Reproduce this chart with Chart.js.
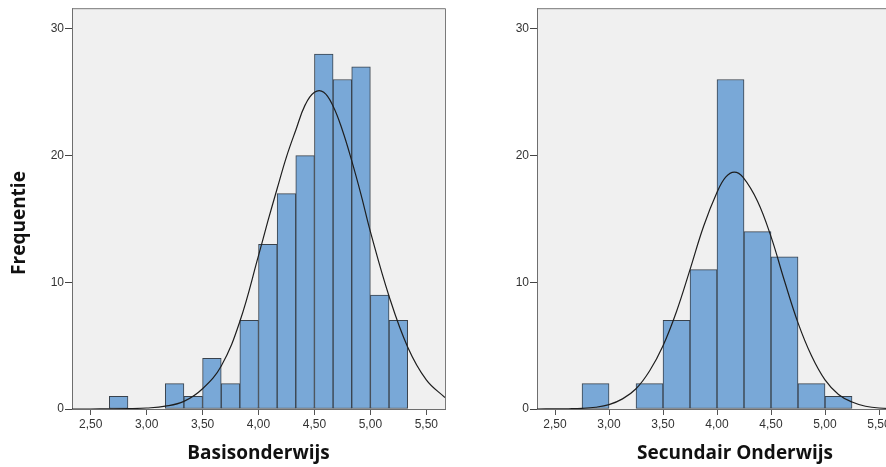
<!DOCTYPE html>
<html>
<head>
<meta charset="utf-8">
<script src="https://cdn.jsdelivr.net/npm/chart.js@4"></script>
<style>
  html, body { margin: 0; padding: 0; background: #fff; overflow: hidden; width: 886px; height: 467px; }
  canvas { position: absolute; top: 0; }
  #basis { left: 0; }
  #secundair { left: 465px; }
</style>
</head>
<body>
<canvas id="basis" width="450" height="467"></canvas>
<canvas id="secundair" width="470" height="467"></canvas>
<script>
// Histogram data (bin edges + counts per bin)
const basisBinEdges = [2.667, 2.833, 3.0, 3.167, 3.333, 3.5, 3.667, 3.833, 4.0, 4.167, 4.333, 4.5, 4.667, 4.833, 5.0, 5.167, 5.333];
const basisCounts = [1, 0, 0, 2, 1, 4, 2, 7, 13, 17, 20, 28, 26, 27, 9, 7];
const basisCurveX = [2.333, 2.5, 2.667, 2.833, 3.0, 3.167, 3.333, 3.5, 3.667, 3.833, 4.0, 4.083, 4.167, 4.25, 4.333, 4.417, 4.5, 4.583, 4.667, 4.75, 4.833, 4.917, 5.0, 5.167, 5.333, 5.5, 5.667];
const basisCurveY = [0, 0, 0.01, 0.03, 0.08, 0.22, 0.6, 1.6, 3.4, 6.9, 12.1, 14.8, 17.4, 19.9, 22.0, 24.0, 25.0, 25.0, 23.9, 22.0, 19.6, 16.9, 14.0, 8.9, 4.9, 2.3, 0.9];

const secBinEdges = [2.75, 3.0, 3.25, 3.5, 3.75, 4.0, 4.25, 4.5, 4.75, 5.0, 5.25];
const secCounts = [2, 0, 2, 7, 11, 26, 14, 12, 2, 1];
const secCurveX = [2.333, 2.5, 2.625, 2.75, 2.875, 3.0, 3.125, 3.25, 3.375, 3.5, 3.625, 3.75, 3.875, 4.0, 4.08, 4.16, 4.24, 4.375, 4.5, 4.625, 4.75, 4.875, 5.0, 5.125, 5.25, 5.375, 5.5, 5.75, 6.0];
const secCurveY = [0, 0.01, 0.02, 0.05, 0.14, 0.35, 0.8, 1.6, 3.0, 5.0, 7.7, 11.0, 14.4, 17.1, 18.3, 18.7, 18.3, 16.4, 13.6, 10.1, 6.8, 4.2, 2.3, 1.15, 0.55, 0.22, 0.08, 0.01, 0];

const xTickValues = [2.5, 3.0, 3.5, 4.0, 4.5, 5.0, 5.5];
const xTickLabels = ['2,50', '3,00', '3,50', '4,00', '4,50', '5,00', '5,50'];
const yTickValues = [0, 10, 20, 30];
const yTickLabels = ['0', '10', '20', '30'];

// grey plot background, frame on top/right, optional rotated side title
const plotFrame = {
  id: 'plotFrame',
  beforeDraw(chart) {
    const { ctx, chartArea: a } = chart;
    ctx.save();
    ctx.fillStyle = '#f0f0f0';
    ctx.fillRect(a.left, a.top, a.right - a.left, a.bottom - a.top);
    ctx.restore();
  },
  afterDraw(chart, args, opts) {
    const { ctx, chartArea: a } = chart;
    ctx.save();
    ctx.strokeStyle = '#7a7a7a';
    ctx.lineWidth = 1;
    ctx.beginPath();
    ctx.moveTo(a.left, a.top + 0.5);
    ctx.lineTo(a.right + 0.5, a.top + 0.5);
    ctx.lineTo(a.right + 0.5, a.bottom);
    ctx.stroke();
    if (opts && opts.sideTitle) {
      ctx.translate(opts.sideX, opts.sideY);
      ctx.rotate(-Math.PI / 2);
      ctx.font = 'bold 19px "Open Sans"';
      ctx.fillStyle = '#111';
      ctx.textAlign = 'center';
      ctx.textBaseline = 'middle';
      ctx.fillText(opts.sideTitle, 0, 0);
    }
    ctx.restore();
  }
};

function makeHistogram(id, edges, counts, curveX, curveY, xMax, title, rightPad, frameOpts) {
  const bars = counts.map((c, i) => ({ x: (edges[i] + edges[i + 1]) / 2, y: c }));
  const curve = curveX.map((x, i) => ({ x: x, y: curveY[i] }));
  const tickFont = { family: '"Liberation Sans", Arial, sans-serif', size: 12 };
  return new Chart(document.getElementById(id), {
    type: 'bar',
    data: {
      datasets: [
        {
          type: 'line', data: curve, order: 0,
          borderColor: '#1e1e1e', borderWidth: 1.2, pointRadius: 0,
          tension: 0.4, fill: false
        },
        {
          type: 'bar', data: bars, order: 1,
          backgroundColor: '#79a8d7', borderColor: '#39424c', borderWidth: 1,
          borderSkipped: false, barPercentage: 1, categoryPercentage: 1
        }
      ]
    },
    options: {
      responsive: false,
      animation: false,
      layout: { padding: { top: 8, right: rightPad, left: 0, bottom: 0 } },
      plugins: { legend: { display: false }, tooltip: { enabled: false }, plotFrame: frameOpts },
      scales: {
        x: {
          type: 'linear', min: 2.333, max: xMax, offset: false,
          afterFit: s => { s.height = 58; },
          afterBuildTicks: s => { s.ticks = xTickValues.map(v => ({ value: v })); },
          grid: { drawOnChartArea: false, drawTicks: true, tickLength: 6, tickColor: '#555', offset: false },
          border: { display: true, color: '#6e6e6e' },
          ticks: {
            autoSkip: false, maxRotation: 0, padding: 2, color: '#333', font: tickFont,
            callback: v => xTickLabels[xTickValues.indexOf(v)]
          },
          title: {
            display: true, text: title, color: '#111',
            font: { family: '"Open Sans"', size: 19, weight: 'bold' },
            padding: { top: 0, bottom: 1.6 }
          }
        },
        y: {
          type: 'linear', min: 0, max: 31.63,
          afterFit: s => { s.width = 72; },
          afterBuildTicks: s => { s.ticks = yTickValues.map(v => ({ value: v })); },
          grid: { drawOnChartArea: false, drawTicks: true, tickLength: 7, tickColor: '#444' },
          border: { display: true, color: '#6e6e6e' },
          ticks: {
            padding: 1, color: '#333', font: tickFont,
            callback: v => yTickLabels[yTickValues.indexOf(v)]
          }
        }
      }
    },
    plugins: [plotFrame]
  });
}

makeHistogram('basis', basisBinEdges, basisCounts, basisCurveX, basisCurveY, 5.667, 'Basisonderwijs', 5,
  { sideTitle: 'Frequentie', sideX: 20, sideY: 223 });
makeHistogram('secundair', secBinEdges, secCounts, secCurveX, secCurveY, 6.0, 'Secundair Onderwijs', 2, {});
</script>
</body>
</html>
